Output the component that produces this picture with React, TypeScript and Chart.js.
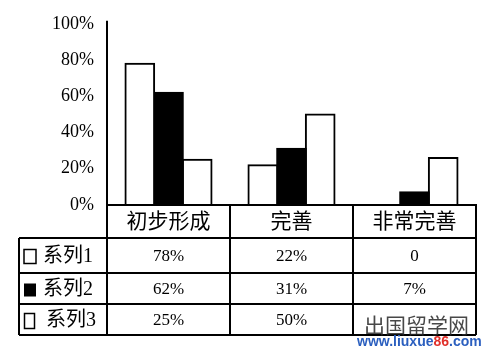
import React, { useEffect, useRef } from "react";
import { Chart, registerables } from "chart.js";

Chart.register(...registerables);

const categories = ["初步形成", "完善", "非常完善"];
const seriesNames = ["系列1", "系列2", "系列3"];
const series1 = [78, 22, 0];
const series2 = [62, 31, 7];
const series3 = [25, 50, 26];
const tableText = [
  ["78%", "22%", "0"],
  ["62%", "31%", "7%"],
  ["25%", "50%", ""],
];
const yTicks = [0, 20, 40, 60, 80, 100];

const SERIF = "'Liberation Serif', 'Noto Sans CJK SC', serif";

const tablePlugin = {
  id: "dataTable",
  afterDraw(chart: any) {
    const ctx = chart.ctx;
    const area = chart.chartArea;
    const x = chart.scales.x;
    const left = area.left;
    const right = area.right;
    const base = area.bottom;
    const step = (right - left) / categories.length;
    const tableLeft = 19;
    const rows = [base, base + 33, base + 68, base + 99, base + 130];
    ctx.save();
    ctx.strokeStyle = "#000";
    ctx.lineWidth = 2;
    ctx.beginPath();
    ctx.moveTo(left, area.top - 3);
    ctx.lineTo(left, rows[0]);
    ctx.moveTo(left, rows[0]);
    ctx.lineTo(right, rows[0]);
    for (let i = 1; i < rows.length; i++) {
      ctx.moveTo(tableLeft, rows[i]);
      ctx.lineTo(right, rows[i]);
    }
    ctx.moveTo(tableLeft, rows[1]);
    ctx.lineTo(tableLeft, rows[4]);
    for (let c = 0; c <= categories.length; c++) {
      const xx = left + c * step;
      ctx.moveTo(xx, rows[0]);
      ctx.lineTo(xx, rows[4]);
    }
    ctx.stroke();

    ctx.fillStyle = "#000";
    ctx.textAlign = "center";
    ctx.textBaseline = "middle";
    ctx.font = "21px " + SERIF;
    categories.forEach((c, i) => {
      ctx.fillText(c, x.getPixelForValue(i), (rows[0] + rows[1]) / 2 + 1);
    });
    ctx.font = "17px " + SERIF;
    tableText.forEach((row, r) => {
      row.forEach((t, i) => {
        if (t) ctx.fillText(t, x.getPixelForValue(i), (rows[r + 1] + rows[r + 2]) / 2 + 1);
      });
    });
    ctx.textAlign = "left";
    seriesNames.forEach((n, r) => {
      const cy = (rows[r + 1] + rows[r + 2]) / 2;
      ctx.lineWidth = 1.5;
      if (r === 0) {
        ctx.fillStyle = "#fff";
        ctx.fillRect(24, cy - 6, 12, 14);
        ctx.strokeRect(24, cy - 6, 12, 14);
      } else if (r === 1) {
        ctx.fillStyle = "#000";
        ctx.fillRect(24, cy - 5, 12, 13);
      } else {
        ctx.strokeRect(24.5, cy - 6, 10, 15);
      }
      ctx.fillStyle = "#000";
      ctx.font = "20px " + SERIF;
      ctx.fillText(n, r === 2 ? 46 : 43, cy + 1);
    });

    // watermark
    ctx.textBaseline = "alphabetic";
    ctx.fillStyle = "rgba(40,40,40,0.85)";
    ctx.font = "21px 'Noto Sans CJK SC', sans-serif";
    ctx.fillText("出国留学网", 364, 333);
    ctx.font = "bold 14px 'Liberation Sans', 'DejaVu Sans', sans-serif";
    const parts: [string, string][] = [
      ["www.liuxue", "#2b5fbf"],
      ["86", "#e0302a"],
      [".com", "#2b5fbf"],
    ];
    let px = 357;
    parts.forEach(([t, col]) => {
      ctx.fillStyle = col;
      ctx.fillText(t, px, 346);
      px += ctx.measureText(t).width;
    });
    ctx.restore();
  },
};

export default function App() {
  const ref = useRef<HTMLCanvasElement>(null);
  useEffect(() => {
    if (!ref.current) return;
    const common = { borderColor: "#000", borderWidth: 2, inflateAmount: 1 };
    const chart = new Chart(ref.current, {
      type: "bar",
      data: {
        labels: categories,
        datasets: [
          { label: seriesNames[0], data: series1, backgroundColor: "#fff", ...common },
          { label: seriesNames[1], data: series2, backgroundColor: "#000", ...common },
          { label: seriesNames[2], data: series3, backgroundColor: "#fff", ...common },
        ],
      },
      options: {
        animation: false,
        responsive: false,
        events: [],
        layout: { padding: { top: 13, right: 24, bottom: 145, left: 0 } },
        plugins: { legend: { display: false }, tooltip: { enabled: false } },
        datasets: { bar: { categoryPercentage: 0.7, barPercentage: 1.0 } },
        scales: {
          x: {
            type: "category",
            grid: { display: false, drawTicks: false },
            border: { display: true, color: "#000", width: 2 },
            ticks: { display: false },
          },
          y: {
            min: 0,
            max: 100,
            afterBuildTicks: (s: any) => {
              s.ticks = yTicks.map((v) => ({ value: v }));
            },
            afterFit: (s: any) => {
              s.width = 107;
            },
            grid: { display: false, drawTicks: false },
            border: { display: true, color: "#000", width: 2 },
            ticks: {
              padding: 13,
              color: "#000",
              font: { family: SERIF, size: 18 },
              callback: (v: any) => v + "%",
            },
          },
        },
      },
      plugins: [tablePlugin],
    });
    return () => chart.destroy();
  }, []);
  return (
    <div style={{ position: "fixed", left: 0, top: 0, width: 500, height: 350, background: "#fff" }}>
      <canvas ref={ref} width={500} height={350} style={{ width: 500, height: 350 }} />
    </div>
  );
}
